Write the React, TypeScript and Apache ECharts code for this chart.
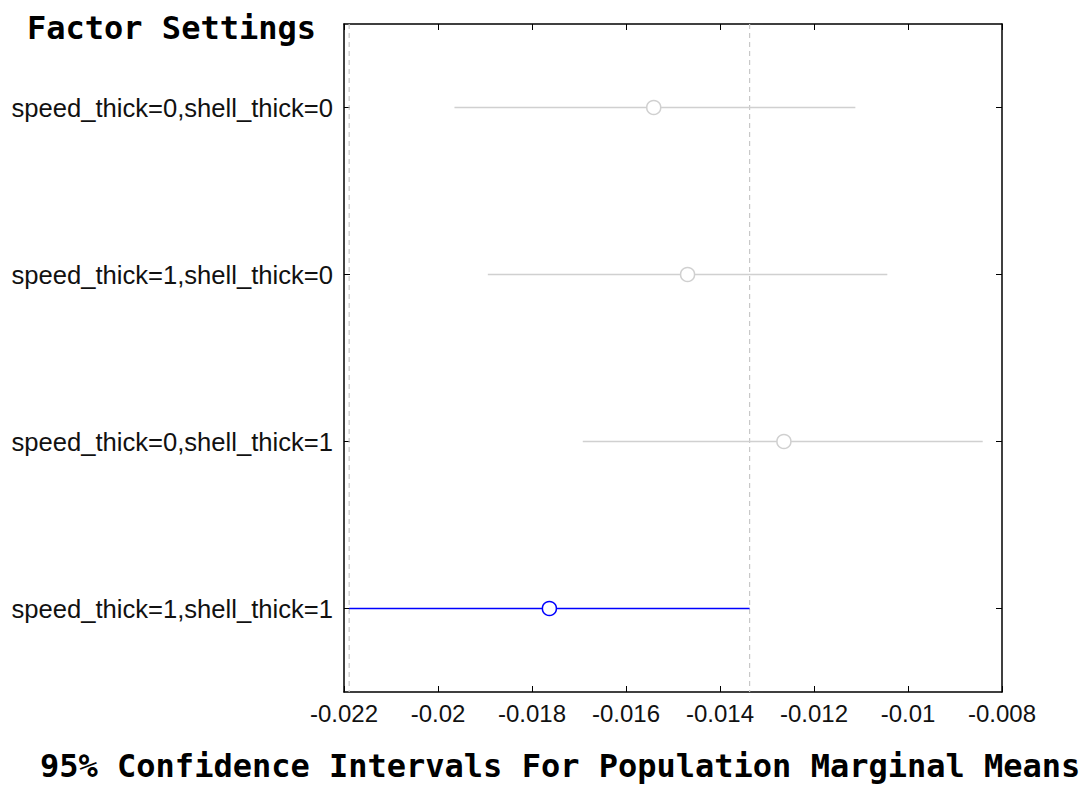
import React, { useEffect, useRef } from "react";
import * as echarts from "echarts";

const categories = [
  "speed_thick=0,shell_thick=0",
  "speed_thick=1,shell_thick=0",
  "speed_thick=0,shell_thick=1",
  "speed_thick=1,shell_thick=1",
];
const lowerBounds = [-0.01965, -0.01894, -0.01692, -0.02189];
const means = [-0.01541, -0.01469, -0.01264, -0.01763];
const upperBounds = [-0.01112, -0.01044, -0.00841, -0.01337];
const selectedIndex = 3;
const xTicks = { min: -0.022, max: -0.008, interval: 0.002 };

export default function App() {
  const ref = useRef<HTMLDivElement>(null);
  useEffect(() => {
    if (!ref.current) return;
    const chart = echarts.init(ref.current, undefined, { renderer: "svg" });
    const data = categories.map((c, i) => [
      i,
      lowerBounds[i],
      means[i],
      upperBounds[i],
      i === selectedIndex ? 1 : 0,
    ]);
    const fmt = (v: number) => String(+v.toFixed(3));
    const frame = { lineStyle: { color: "#000", width: 1.5 } };
    chart.setOption({
      animation: false,
      backgroundColor: "#fff",
      title: [
        {
          text: "Factor Settings",
          left: 22,
          top: 6,
          textStyle: {
            fontFamily: "DejaVu Sans Mono",
            fontWeight: "bold",
            fontSize: 32,
            lineHeight: 34,
            color: "#000",
          },
        },
        {
          text: "95% Confidence Intervals For Population Marginal Means",
          left: 40,
          top: 749,
          padding: 0,
          textStyle: {
            fontFamily: "DejaVu Sans Mono",
            fontWeight: "bold",
            fontSize: 32,
            lineHeight: 34,
            color: "#000",
          },
        },
      ],
      grid: { left: 344, right: 86, top: 24, bottom: 93 },
      xAxis: [
        {
          type: "value",
          min: xTicks.min,
          max: xTicks.max,
          interval: xTicks.interval,
          position: "bottom",
          axisLine: { show: true, ...frame },
          axisTick: { show: true, inside: true, length: 6, lineStyle: { color: "#000" } },
          axisLabel: {
            formatter: fmt,
            fontFamily: "Liberation Sans",
            fontSize: 24,
            color: "#111",
            margin: 9,
          },
          splitLine: { show: false },
        },
        {
          type: "value",
          min: xTicks.min,
          max: xTicks.max,
          interval: xTicks.interval,
          position: "top",
          axisLine: { show: true, ...frame },
          axisTick: { show: true, inside: true, length: 6, lineStyle: { color: "#000" } },
          axisLabel: { show: false },
          splitLine: { show: false },
        },
      ],
      yAxis: [
        {
          type: "category",
          data: categories,
          inverse: true,
          position: "left",
          axisLine: { show: true, ...frame },
          axisTick: { show: true, inside: true, alignWithLabel: true, length: 6, lineStyle: { color: "#000" } },
          axisLabel: {
            fontFamily: "Liberation Sans",
            fontSize: 25.6,
            color: "#111",
            margin: 11,
          },
          splitLine: { show: false },
        },
        {
          type: "category",
          data: categories,
          inverse: true,
          position: "right",
          axisLine: { show: true, ...frame },
          axisTick: { show: true, inside: true, alignWithLabel: true, length: 6, lineStyle: { color: "#000" } },
          axisLabel: { show: false },
          splitLine: { show: false },
        },
      ],
      series: [
        {
          type: "custom",
          xAxisIndex: 0,
          yAxisIndex: 0,
          data,
          encode: { x: [1, 2, 3], y: 0 },
          renderItem: (params: any, api: any) => {
            const cat = api.value(0);
            const lo = api.coord([api.value(1), cat]);
            const mid = api.coord([api.value(2), cat]);
            const hi = api.coord([api.value(3), cat]);
            const selected = api.value(4) === 1;
            const color = selected ? "#0000ff" : "#d0d0d0";
            const cs = params.coordSys;
            const children: any[] = [];
            if (selected) {
              [lo[0], hi[0]].forEach((x: number) => {
                children.push({
                  type: "line",
                  z2: 0,
                  shape: { x1: x, y1: cs.y, x2: x, y2: cs.y + cs.height },
                  style: { stroke: "#c8c8c8", lineWidth: 1.2, lineDash: [5, 4] },
                });
              });
            }
            children.push(
              {
                type: "line",
                z2: 1,
                shape: { x1: lo[0], y1: lo[1], x2: hi[0], y2: hi[1] },
                style: { stroke: color, lineWidth: 1.5 },
              },
              {
                type: "circle",
                z2: 2,
                shape: { cx: mid[0], cy: mid[1], r: 7 },
                style: { fill: "#fff", stroke: color, lineWidth: 1.5 },
              }
            );
            return { type: "group", children };
          },
        },
      ],
    });
    return () => chart.dispose();
  }, []);
  return (
    <div
      ref={ref}
      style={{ position: "fixed", left: 0, top: 0, width: 1088, height: 785 }}
    />
  );
}
